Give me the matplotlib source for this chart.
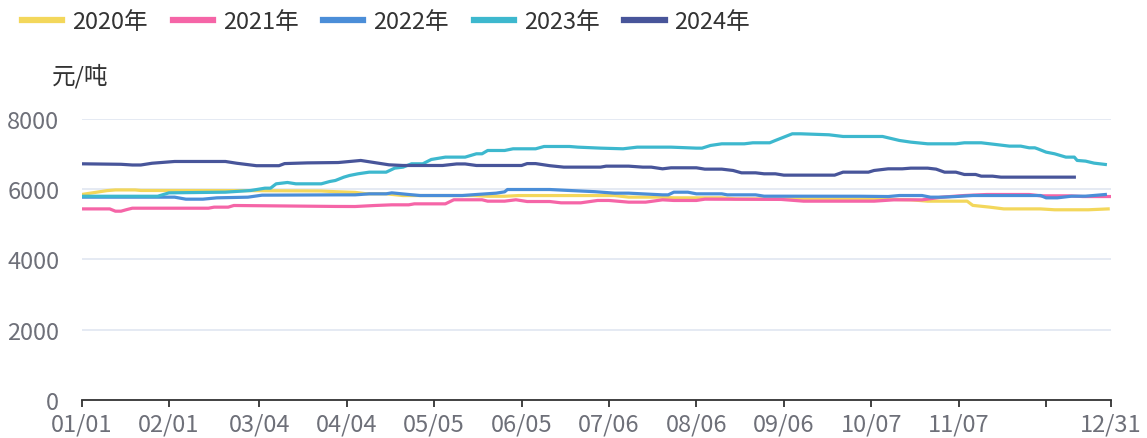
import matplotlib
matplotlib.use("Agg")
import matplotlib.pyplot as plt
import pandas as pd

plt.rcParams['font.family'] = ['Noto Sans CJK SC', 'DejaVu Sans']

# category axis: every day of a (leap) year, labelled MM/DD
dates = pd.date_range("2024-01-01", "2024-12-31", freq="D").strftime("%m/%d").tolist()
tick_days = [0, 31, 63, 94, 125, 156, 187, 218, 249, 280, 311, 342, 365]
tick_labels = ["01/01", "02/01", "03/04", "04/04", "05/05", "06/05", "07/06",
               "08/06", "09/06", "10/07", "11/07", "", "12/31"]

years = ["2020年", "2021年", "2022年", "2023年", "2024年"]
colors = ["#F3D75B", "#F565A7", "#4B8ED8", "#3DB8CE", "#48559A"]

# (day index, 元/吨)
day_2020 = [0, 9, 12, 19, 21, 60, 85, 90, 97, 101, 108, 114, 139, 144, 150, 155, 182, 189,
            194, 205, 210, 227, 232, 280, 294, 300, 314, 316, 322, 327, 340, 345, 357, 364]
val_2020 = [5850, 5960, 5980, 5980, 5965, 5960, 5950, 5930, 5910, 5870, 5870, 5820, 5820, 5800,
            5800, 5820, 5820, 5820, 5775, 5775, 5755, 5755, 5725, 5720, 5700, 5660, 5660, 5540,
            5490, 5440, 5440, 5415, 5415, 5440]

day_2021 = [0, 10, 12, 14, 16, 18, 45, 47, 52, 54, 90, 97, 104, 110, 116, 118, 129, 132, 142,
            144, 150, 154, 158, 166, 170, 177, 183, 187, 194, 200, 206, 210, 218, 221, 248, 256,
            276, 281, 288, 298, 305, 313, 321, 336, 340, 350, 355, 365]
val_2021 = [5440, 5440, 5375, 5375, 5420, 5460, 5460, 5490, 5490, 5537, 5510, 5508, 5537, 5556,
            5556, 5584, 5584, 5700, 5700, 5660, 5660, 5700, 5650, 5650, 5613, 5613, 5680, 5680,
            5632, 5632, 5698, 5680, 5680, 5717, 5710, 5660, 5660, 5660, 5698, 5698, 5774, 5821,
            5850, 5850, 5812, 5812, 5792, 5792]

day_2022 = [0, 33, 37, 43, 48, 59, 64, 91, 97, 102, 108, 110, 116, 120, 135, 140, 147, 150, 151,
            166, 173, 182, 189, 194, 206, 208, 210, 215, 218, 227, 229, 239, 242, 276, 286, 290,
            298, 301, 305, 310, 316, 340, 342, 346, 351, 356, 363]
val_2022 = [5774, 5774, 5717, 5717, 5755, 5774, 5831, 5840, 5840, 5869, 5869, 5897, 5850, 5821,
            5821, 5850, 5888, 5926, 5992, 5992, 5964, 5930, 5888, 5888, 5840, 5840, 5916, 5916,
            5869, 5869, 5840, 5840, 5802, 5800, 5792, 5821, 5821, 5774, 5774, 5792, 5821, 5821,
            5755, 5755, 5802, 5802, 5850]

day_2023 = [0, 27, 31, 51, 60, 65, 67, 69, 73, 76, 85, 88, 90, 93, 95, 98, 102, 108, 111, 114,
            117, 121, 124, 129, 136, 140, 142, 144, 150, 153, 161, 164, 173, 176, 184, 192, 197,
            209, 218, 220, 223, 227, 235, 238, 244, 246, 249, 252, 255, 265, 270, 284, 286, 290,
            294, 300, 310, 313, 319, 324, 329, 333, 336, 338, 339, 342, 345, 349, 352, 353, 356,
            359, 363]
val_2023 = [5800, 5800, 5897, 5916, 5964, 6030, 6030, 6154, 6192, 6154, 6154, 6220, 6249, 6344,
            6391, 6439, 6486, 6486, 6600, 6629, 6724, 6724, 6847, 6914, 6914, 7009, 7009, 7103,
            7103, 7151, 7151, 7217, 7217, 7198, 7170, 7151, 7198, 7198, 7170, 7170, 7246, 7293,
            7293, 7322, 7322, 7388, 7483, 7578, 7578, 7550, 7502, 7502, 7464, 7388, 7341, 7293,
            7293, 7322, 7322, 7275, 7227, 7227, 7179, 7179, 7151, 7056, 7009, 6914, 6914, 6820,
            6800, 6743, 6705]

day_2024 = [0, 14, 18, 21, 25, 33, 51, 55, 62, 70, 72, 80, 91, 99, 109, 114, 128, 133, 136, 140,
            156, 158, 161, 166, 171, 184, 186, 194, 199, 202, 206, 209, 218, 221, 227, 231, 234,
            239, 242, 246, 249, 267, 270, 279, 281, 286, 291, 294, 300, 303, 306, 310, 313, 317,
            319, 323, 326, 352]
val_2024 = [6724, 6710, 6690, 6690, 6740, 6790, 6790, 6740, 6670, 6670, 6730, 6750, 6760, 6819,
            6695, 6676, 6676, 6720, 6720, 6676, 6676, 6730, 6730, 6670, 6629, 6629, 6657, 6657,
            6629, 6629, 6581, 6610, 6610, 6572, 6572, 6534, 6467, 6467, 6439, 6439, 6401, 6401,
            6486, 6486, 6534, 6581, 6581, 6600, 6600, 6572, 6486, 6486, 6420, 6420, 6372, 6372,
            6344, 6344]

series = [(day_2020, val_2020), (day_2021, val_2021), (day_2022, val_2022),
          (day_2023, val_2023), (day_2024, val_2024)]

fig = plt.figure(figsize=(11.47, 4.39), dpi=100)
ax = fig.add_axes([0.0711, 0.0866, 0.8975, 0.6401])

for (d, v), name, c in zip(series, years, colors):
    ax.plot(d, v, color=c, lw=2.3, label=name, solid_joinstyle="round")

ax.set_xlim(0, len(dates) - 1)
ax.set_ylim(0, 8000)
ax.set_yticks([0, 2000, 4000, 6000, 8000])
ax.set_xticks(tick_days)
ax.set_xticklabels(tick_labels)
ax.yaxis.grid(True, color="#E0E6F1", lw=1.2)
ax.set_axisbelow(True)
for s in ["top", "right", "left"]:
    ax.spines[s].set_visible(False)
ax.spines["bottom"].set_color("#333333")
ax.spines["bottom"].set_linewidth(1.3)
ax.tick_params(axis="y", length=0, pad=16, labelsize=17, labelcolor="#6E7079")
ax.tick_params(axis="x", length=5, width=1.3, color="#333333", pad=4,
               labelsize=17, labelcolor="#6E7079")

fig.text(0.0453, 0.827, "元/吨", fontsize=17, color="#333333", va="center", ha="left")

leg = fig.legend(loc="upper left", bbox_to_anchor=(0.005, 1.012), ncol=5, frameon=False,
                 fontsize=17, handlelength=1.7, handletextpad=0.42, columnspacing=1.05,
                 borderpad=0.2, labelcolor="#333333")
for h in leg.get_lines():
    h.set_linewidth(4.5)

fig.savefig("out.png", dpi=100)
